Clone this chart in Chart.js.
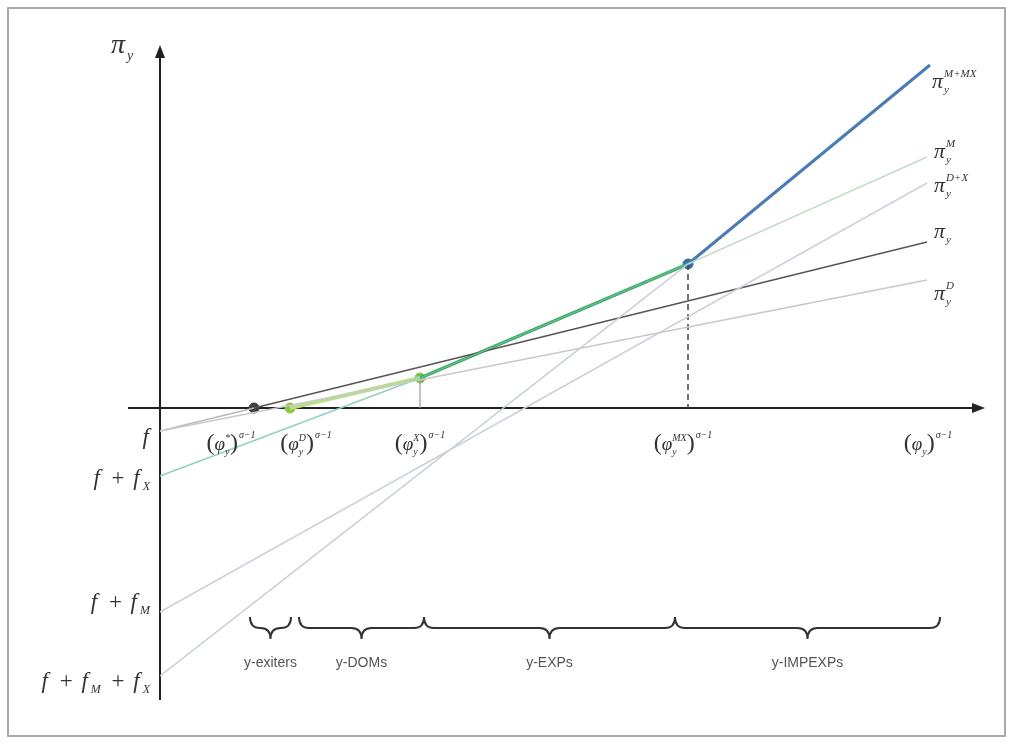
<!DOCTYPE html>
<html lang="en">
<head>
<meta charset="UTF-8">
<title>Profit lines by productivity</title>
<style>
  html, body { margin: 0; padding: 0; background: #fff; }
  #wrap { position: relative; width: 1013px; height: 744px; }
</style>
<script src="https://cdn.jsdelivr.net/npm/chart.js"></script>
</head>
<body>
<div id="wrap"><canvas id="chart" width="1013" height="744"></canvas></div>
<script>
// cutoffs on the x axis: phi*, phi^D, phi^X, phi^MX, phi
const cutoffX = [0.94, 1.30, 2.60, 5.28, 7.70];
const cutoffSup = ['*', 'D', 'X', 'MX', ''];
const cutoffLabelX = [0.71, 1.46, 2.60, 5.23, 7.68];
const cutoffLabelY = -0.42;

// profit lines (x, y pairs)
const piYx = [0, 0.94, 7.67];
const piYy = [-0.23, 0, 1.66];
const piDx = [0, 7.67];
const piDy = [-0.23, 1.28];
const lineXx = [0, 2.60, 5.28, 7.67];
const lineXy = [-0.68, 0.30, 1.44, 2.51];
const lineMx = [0, 7.67];
const lineMy = [-2.04, 2.25];
const lineMXx = [0, 5.28];
const lineMXy = [-2.68, 1.44];
const blueX = [5.28, 7.70];
const blueY = [1.44, 3.43];
const envX = [1.30, 2.60, 5.28];
const envY = [0, 0.30, 1.44];

// dots
const dotX = [0.94, 1.30, 2.60, 5.28];
const dotY = [0, 0, 0.30, 1.44];
const dotColor = ['#3d3d3d', '#8cc63f', '#7cc242', '#3b6ea5'];

// labels at the right end of the lines
const endSup = ['M+MX', 'M', 'D+X', '', 'D'];
const endX = [7.72, 7.74, 7.74, 7.74, 7.74];
const endY = [3.20, 2.50, 2.16, 1.70, 1.08];

// fixed cost labels on the y axis
const costLabels = [['f'], ['f', 'X'], ['f', 'M'], ['f', 'M', 'X']];
const costY = [-0.36, -0.77, -2.01, -2.80];

// braces below the axis
const braceFrom = [0.90, 1.39, 2.64, 5.15];
const braceTo = [1.31, 2.64, 5.15, 7.80];
const braceText = ['y-exiters', 'y-DOMs', 'y-EXPs', 'y-IMPEXPs'];
const braceY = -2.20;
const braceTextY = -2.59;

const xMin = -0.32, xMax = 8.25, yMin = -2.92, yMax = 3.63;

const pts = (xs, ys) => xs.map((x, i) => ({ x: x, y: ys[i] }));

function line(xs, ys, color, width, extra) {
    return Object.assign({
        data: pts(xs, ys),
        showLine: true,
        borderColor: color,
        borderWidth: width,
        pointRadius: 0,
        fill: false,
        clip: false
    }, extra || {});
}

// text helpers (serif italic maths)
function fontOf(r) {
    return (r.it === false ? '' : 'italic ') + (r.size || 20) + 'px "Liberation Serif", "DejaVu Serif", serif';
}
function widthOf(ctx, r) {
    if (r.stack) return Math.max.apply(null, r.stack.map(s => widthOf(ctx, s)));
    ctx.font = fontOf(r);
    return ctx.measureText(r.t).width + (r.gap || 0);
}
function drawRuns(ctx, x, y, runs, align) {
    const total = runs.reduce((a, r) => a + widthOf(ctx, r), 0);
    let cx = align === 'center' ? x - total / 2 : align === 'right' ? x - total : x;
    runs.forEach(r => {
        (r.stack || [r]).forEach(p => {
            ctx.font = fontOf(p);
            ctx.fillText(p.t, cx + (p.pre || 0), y + (p.dy || 0));
        });
        cx += widthOf(ctx, r);
    });
}
const piRuns = (sup, sub) => [
    { t: 'π', size: 22, gap: 1 },
    { stack: [{ t: sup, size: 11, dy: -11 }, { t: sub, size: 11, dy: 5 }] }
];
const phiRuns = sup => [
    { t: '(', size: 24, it: false },
    { t: 'φ', size: 19 },
    { stack: [{ t: sup, size: 10, dy: -9 }, { t: 'y', size: 10, dy: 5 }], gap: 0 },
    { t: ')', size: 24, it: false, gap: 1 },
    { t: 'σ−1', size: 10, dy: -12 }
];
function costRuns(parts) {
    const runs = [{ t: parts[0], size: 23, gap: 3 }];
    parts.slice(1).forEach(s => {
        runs.push({ t: ' + ', size: 23, it: false, gap: 6, pre: 3 });
        runs.push({ t: 'f', size: 23, gap: 3 });
        runs.push({ t: s, size: 12, dy: 5, gap: 2 });
    });
    return runs;
}

function drawBrace(ctx, x0, x1, y) {
    const h = 11, r = 10, xm = (x0 + x1) / 2;
    ctx.beginPath();
    ctx.moveTo(x0, y - h);
    ctx.quadraticCurveTo(x0, y, x0 + r, y);
    ctx.lineTo(xm - r, y);
    ctx.quadraticCurveTo(xm, y, xm, y + h);
    ctx.quadraticCurveTo(xm, y, xm + r, y);
    ctx.lineTo(x1 - r, y);
    ctx.quadraticCurveTo(x1, y, x1, y - h);
    ctx.stroke();
}

const diagram = {
    id: 'diagram',
    beforeDraw(chart) {
        const ctx = chart.ctx;
        ctx.save();
        ctx.fillStyle = '#fff';
        ctx.fillRect(0, 0, chart.width, chart.height);
        ctx.strokeStyle = '#a9a9a9';
        ctx.lineWidth = 2;
        ctx.strokeRect(8, 8, 997, 728);
        ctx.restore();
    },
    beforeDatasetsDraw(chart) {
        const ctx = chart.ctx, sx = chart.scales.x, sy = chart.scales.y;
        const x0 = sx.getPixelForValue(0), y0 = sy.getPixelForValue(0);
        const left = sx.getPixelForValue(xMin), right = sx.getPixelForValue(xMax);
        const top = sy.getPixelForValue(yMax), bottom = sy.getPixelForValue(yMin);
        ctx.save();
        ctx.strokeStyle = '#222';
        ctx.fillStyle = '#222';
        ctx.lineWidth = 2;
        ctx.beginPath();
        ctx.moveTo(left, y0); ctx.lineTo(right - 10, y0);
        ctx.moveTo(x0, bottom); ctx.lineTo(x0, top + 10);
        ctx.stroke();
        ctx.beginPath();
        ctx.moveTo(right, y0); ctx.lineTo(right - 13, y0 - 5); ctx.lineTo(right - 13, y0 + 5);
        ctx.closePath(); ctx.fill();
        ctx.beginPath();
        ctx.moveTo(x0, top); ctx.lineTo(x0 - 5, top + 13); ctx.lineTo(x0 + 5, top + 13);
        ctx.closePath(); ctx.fill();
        ctx.restore();
    },
    afterDatasetsDraw(chart) {
        const ctx = chart.ctx, sx = chart.scales.x, sy = chart.scales.y;
        const X = v => sx.getPixelForValue(v), Y = v => sy.getPixelForValue(v);
        ctx.save();
        ctx.fillStyle = '#333';
        ctx.textBaseline = 'alphabetic';

        // axis title
        drawRuns(ctx, X(0) - 49, Y(yMax) + 8, [
            { t: 'π', size: 28, gap: 2 }, { t: 'y', size: 14, dy: 7 }
        ], 'left');

        // line end labels
        endSup.forEach((s, i) => drawRuns(ctx, X(endX[i]), Y(endY[i]), piRuns(s, 'y'), 'left'));

        // cutoff labels
        cutoffSup.forEach((s, i) => drawRuns(ctx, X(cutoffLabelX[i]), Y(cutoffLabelY), phiRuns(s), 'center'));

        // fixed cost labels
        costLabels.forEach((p, i) => drawRuns(ctx, X(0) - 8, Y(costY[i]), costRuns(p), 'right'));

        // braces
        ctx.strokeStyle = '#333';
        ctx.lineWidth = 2;
        braceFrom.forEach((b, i) => drawBrace(ctx, X(b), X(braceTo[i]), Y(braceY)));
        ctx.fillStyle = '#555';
        ctx.font = '14px "Liberation Sans", "DejaVu Sans", sans-serif';
        ctx.textAlign = 'center';
        braceText.forEach((t, i) => ctx.fillText(t, X((braceFrom[i] + braceTo[i]) / 2), Y(braceTextY)));
        ctx.restore();
    }
};

const datasets = [
    line(piDx, piDy, '#c9c9c9', 1.5),
    line(lineMx, lineMy, '#cbd2dc', 1.5),
    line(lineMXx, lineMXy, '#c2cbd9', 1.5),
    line(lineXx, lineXy, '#9fd3c9', 1.5, {
        segment: { borderColor: c => ['#93cfc3', '#5fbf86', '#c3dcc6'][c.p0DataIndex] }
    }),
    line(piYx, piYy, '#555', 1.5, {
        segment: { borderColor: c => ['#b9b9b9', '#555555'][c.p0DataIndex] }
    }),
    line([cutoffX[2], cutoffX[2]], [envY[1], 0], '#9a9a9a', 1.2),
    line([cutoffX[3], cutoffX[3]], [envY[2], 0], '#444', 1.5, { borderDash: [6, 4] }),
    line(envX.slice(0, 2), envY.slice(0, 2), '#b9de8a', 4),
    line(envX.slice(1), envY.slice(1), '#2f9e5f', 3),
    line(blueX, blueY, '#4a7bb5', 3),
    {
        data: pts(dotX, dotY),
        showLine: false,
        pointRadius: 5,
        pointBackgroundColor: dotColor,
        pointBorderColor: dotColor,
        clip: false
    }
];

new Chart(document.getElementById('chart'), {
    type: 'scatter',
    data: { datasets: datasets },
    options: {
        responsive: false,
        animation: false,
        devicePixelRatio: 1,
        layout: { padding: { left: 128, right: 28, top: 45, bottom: 44 } },
        scales: {
            x: { type: 'linear', min: xMin, max: xMax, display: false },
            y: { type: 'linear', min: yMin, max: yMax, display: false }
        },
        plugins: { legend: { display: false }, tooltip: { enabled: false } }
    },
    plugins: [diagram]
});
</script>
</body>
</html>
